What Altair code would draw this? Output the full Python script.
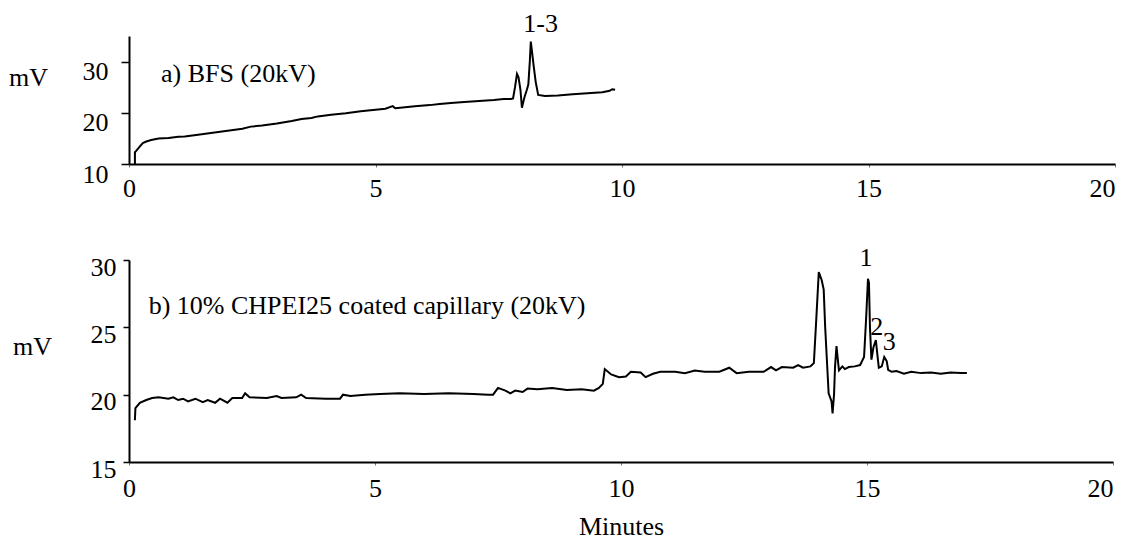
import altair as alt
import pandas as pd

FONT = "Times New Roman, Liberation Serif, serif"

# ---- panel a) BFS (20kV) ----
a_time = [0.12, 0.12, 0.15, 0.2, 0.28, 0.35, 0.45, 0.6, 0.8, 1.0, 1.13, 1.4, 1.7, 2.0, 2.3, 2.47,
          2.7, 3.0, 3.3, 3.5, 3.7, 3.83, 4.1, 4.4, 4.7, 5.0, 5.2, 5.35, 5.4, 5.5, 5.8, 6.1, 6.3,
          6.53, 6.8, 7.1, 7.4, 7.6, 7.75, 7.79, 7.83, 7.87, 7.9, 7.94, 7.97, 8.02, 8.07, 8.1,
          8.13, 8.15, 8.18, 8.21, 8.25, 8.3, 8.44, 8.7, 9.0, 9.3, 9.6, 9.75, 9.8, 9.86]
a_mv = [10.0, 12.3, 12.6, 13.2, 14.1, 14.4, 14.7, 15.0, 15.1, 15.3, 15.35, 15.7, 16.1, 16.5, 16.9, 17.3,
        17.5, 17.9, 18.4, 18.8, 19.0, 19.3, 19.6, 19.9, 20.3, 20.6, 20.8, 21.3, 20.9, 21.0, 21.3, 21.5, 21.7,
        21.9, 22.1, 22.3, 22.5, 22.7, 22.7, 22.8, 25.0, 27.6, 27.0, 24.5, 21.0, 23.0, 24.5, 25.5,
        30.0, 33.9, 31.5, 29.0, 26.0, 23.5, 23.3, 23.4, 23.6, 23.8, 24.0, 24.3, 24.6, 24.5]

# ---- panel b) 10% CHPEI25 coated capillary (20kV) ----
b_time = [0.12, 0.13, 0.22, 0.35, 0.47, 0.6, 0.8, 0.9, 1.0, 1.1, 1.2, 1.35, 1.5, 1.6, 1.75, 1.85,
          2.0, 2.1, 2.3, 2.36, 2.45, 2.8, 3.0, 3.1, 3.4, 3.5, 3.6, 4.0, 4.29, 4.35, 4.5, 4.8, 5.1,
          5.5, 6.0, 6.5, 7.0, 7.3, 7.4, 7.5, 7.65, 7.75, 7.85, 8.0, 8.1, 8.3, 8.6, 8.9, 9.2, 9.45,
          9.55, 9.63, 9.67, 9.8, 9.96, 10.1, 10.2, 10.4, 10.5, 10.65, 10.8, 11.1, 11.3, 11.5, 11.7,
          12.0, 12.2, 12.35, 12.6, 12.9, 13.05, 13.15, 13.27, 13.5, 13.6, 13.7, 13.85, 13.92, 13.96,
          14.02, 14.08, 14.12, 14.15, 14.22, 14.28, 14.3, 14.33, 14.35, 14.38, 14.41, 14.43, 14.5,
          14.55, 14.63, 14.75, 14.86, 14.94, 14.98, 15.02, 15.04, 15.06, 15.09, 15.13, 15.18, 15.21,
          15.24, 15.3, 15.35, 15.4, 15.43, 15.5, 15.6, 15.75, 15.9, 16.1, 16.3, 16.5, 16.7, 16.9, 17.03]
b_mv = [18.1, 19.0, 19.4, 19.6, 19.75, 19.8, 19.7, 19.8, 19.6, 19.7, 19.5, 19.7, 19.45, 19.6, 19.4, 19.7,
        19.4, 19.75, 19.75, 20.1, 19.8, 19.75, 19.9, 19.75, 19.8, 20.0, 19.75, 19.7, 19.7, 20.0, 19.9, 20.0, 20.05,
        20.1, 20.05, 20.1, 20.05, 20.0, 20.0, 20.5, 20.3, 20.1, 20.3, 20.2, 20.45, 20.4, 20.5, 20.35, 20.4, 20.3,
        20.5, 20.8, 21.9, 21.5, 21.3, 21.35, 21.7, 21.65, 21.3, 21.55, 21.7, 21.7, 21.6, 21.8, 21.7,
        21.7, 22.0, 21.6, 21.7, 21.7, 22.05, 21.8, 22.05, 22.0, 22.2, 22.0, 22.1, 22.35, 25.0,
        29.1, 28.5, 27.8, 25.0, 20.1, 19.5, 18.6, 20.0, 22.05, 23.6, 22.5, 21.8, 22.1,
        21.9, 22.05, 22.1, 22.2, 22.8, 25.5, 28.6, 28.3, 25.0, 22.6, 23.5, 24.05, 23.0,
        22.0, 22.1, 22.8, 22.5, 21.85, 21.7, 21.75, 21.55, 21.7, 21.6, 21.65, 21.55, 21.65, 21.6, 21.6]

x_ticks = [0, 5, 10, 15, 20]
a_y_ticks = [10, 15, 20, 25, 30]
b_y_ticks = [15, 20, 25, 30]

# panel titles (left aligned)
title_text = ["a) BFS (20kV)", "b) 10% CHPEI25 coated capillary (20kV)"]
title_t = [0.65, 0.4]
title_mv = [27.5, 26.6]

# peak labels (centered)
a_peak_text = ["1-3"]
a_peak_t = [8.35]
a_peak_mv = [37.4]
b_peak_text = ["1", "2", "3"]
b_peak_t = [14.98, 15.2, 15.45]
b_peak_mv = [30.15, 25.0, 23.9]

df_a = pd.DataFrame({"t": a_time, "mv": a_mv})
df_b = pd.DataFrame({"t": b_time, "mv": b_mv})
ta = pd.DataFrame({"t": [title_t[0]], "mv": [title_mv[0]], "txt": [title_text[0]]})
tb = pd.DataFrame({"t": [title_t[1]], "mv": [title_mv[1]], "txt": [title_text[1]]})
pa = pd.DataFrame({"t": a_peak_t, "mv": a_peak_mv, "txt": a_peak_text})
pb = pd.DataFrame({"t": b_peak_t, "mv": b_peak_mv, "txt": b_peak_text})

FS = 26


def x_axis(pad, title=None):
    kw = dict(values=x_ticks, grid=False, domainColor="black", domainWidth=2,
              tickColor="#777", tickSize=3, tickWidth=1, labelFont=FONT, labelFontSize=FS,
              labelColor="black", labelPadding=pad, labelFlush=False,
              labelAlign={"condition": {"test": "datum.value == 20", "value": "right"}, "value": "center"})
    if title:
        kw.update(title=title, titleFont=FONT, titleFontSize=FS, titleFontWeight="normal",
                  titleColor="black", titlePadding=12)
    else:
        kw.update(title=None)
    return alt.Axis(**kw)


def y_axis(values, label_expr, tx, ty, tick, pad, off):
    return alt.Axis(values=values, labelExpr=label_expr, grid=False, domainColor="black",
                    domainWidth=2, tickColor="black", tickSize=tick, tickWidth=1.5,
                    labelFont=FONT, labelFontSize=FS, labelColor="black", labelPadding=pad,
                    labelOffset=off, title="mV", titleAngle=0, titleX=tx, titleY=ty,
                    titleAlign="center", titleBaseline="middle", titleFont=FONT,
                    titleFontSize=FS, titleFontWeight="normal", titleColor="black")


def texts(df, align):
    return alt.Chart(df).mark_text(font=FONT, fontSize=FS, color="black", baseline="middle",
                                   align=align).encode(x="t:Q", y="mv:Q", text="txt:N")


xa = alt.X("t:Q", scale=alt.Scale(domain=[0, 20], nice=False), axis=x_axis(8))
ya = alt.Y("mv:Q", scale=alt.Scale(domain=[10, 35], nice=False, zero=False),
           axis=y_axis(a_y_ticks, "datum.value % 10 == 0 ? datum.label : ''", -101, 41, 8, 13, 10))

line_a = alt.Chart(df_a).mark_line(color="black", strokeWidth=2).encode(x=xa, y=ya)
top = alt.layer(line_a, texts(ta, "left"), texts(pa, "center")).properties(width=986, height=128)

xb = alt.X("t:Q", scale=alt.Scale(domain=[0, 20], nice=False), axis=x_axis(10, "Minutes"))
yb = alt.Y("mv:Q", scale=alt.Scale(domain=[15, 30], nice=False, zero=False),
           axis=y_axis(b_y_ticks, "datum.label", -97, 86, 6, 7, 7))

line_b = alt.Chart(df_b).mark_line(color="black", strokeWidth=2).encode(x=xb, y=yb)
bottom = alt.layer(line_b, texts(tb, "left"), texts(pb, "center")).properties(width=984, height=202)

chart = alt.vconcat(top, bottom, spacing=96, bounds="flush").properties(
    padding={"left": 8, "top": 10, "right": 0, "bottom": 0}, background="white"
).configure_view(stroke=None)

chart.save("out.html", embed_options={"renderer": "svg", "actions": False})
